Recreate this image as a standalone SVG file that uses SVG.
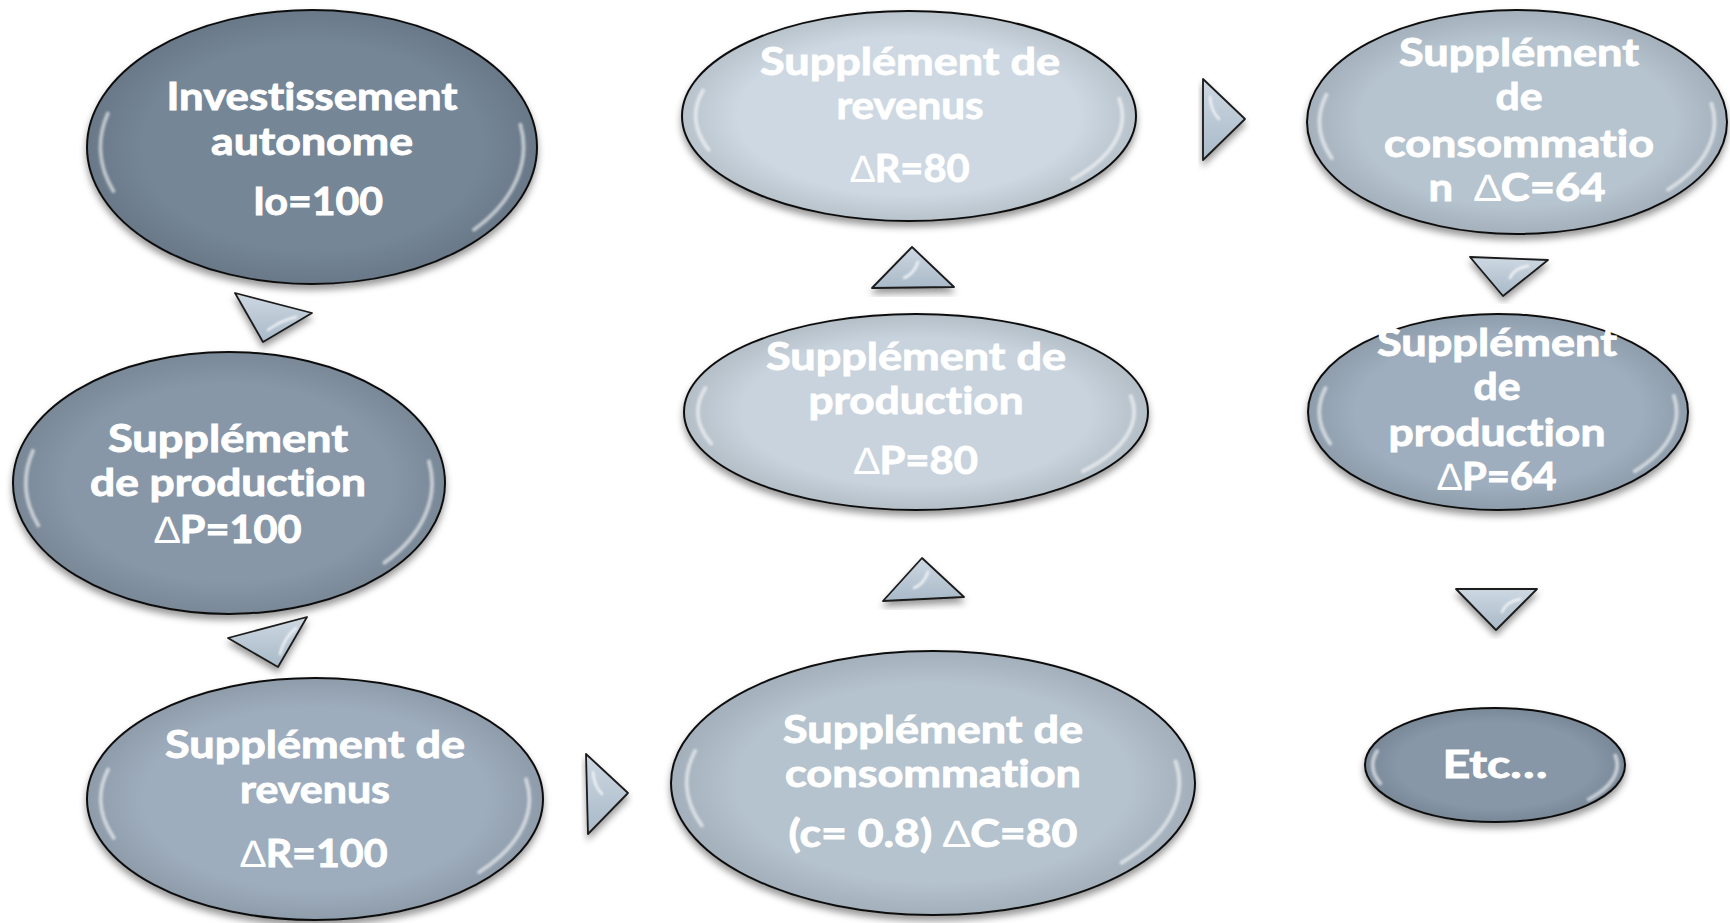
<svg xmlns="http://www.w3.org/2000/svg" width="1730" height="923" viewBox="0 0 1730 923">
<defs>
<filter id="sh" x="-10%" y="-10%" width="120%" height="130%">
<feDropShadow dx="0" dy="5" stdDeviation="3.5" flood-color="#000" flood-opacity="0.4"/>
</filter>
<filter id="soft" x="-20%" y="-20%" width="140%" height="140%">
<feGaussianBlur stdDeviation="0.9"/>
</filter>
<radialGradient id="edge" cx="50%" cy="50%" r="50%">
<stop offset="0.75" stop-color="#000" stop-opacity="0"/>
<stop offset="1" stop-color="#000" stop-opacity="0.1"/>
</radialGradient>
<linearGradient id="tri" x1="0" y1="0" x2="0" y2="1">
<stop offset="0" stop-color="#cdd8e2"/>
<stop offset="1" stop-color="#a9b9c8"/>
</linearGradient>
<style>
.node .e{stroke:#111;stroke-width:2;filter:url(#sh)}
.node .o{fill:url(#edge);stroke:none}
.hl{fill:none;stroke:#fff;stroke-opacity:0.55;stroke-width:4;stroke-linecap:round;filter:url(#soft)}
.lbl{font-family:"Lato","Liberation Sans",sans-serif;font-weight:700;font-size:38px;fill:#fff;stroke:#fff;stroke-width:0.9;text-anchor:middle;font-variant-ligatures:none}
.d{font-family:"Liberation Sans","DejaVu Sans",sans-serif;font-weight:400;stroke-width:0}
.t{fill:url(#tri);stroke:#1a1a1a;stroke-width:1.8;stroke-linejoin:round;filter:url(#sh)}
.th{fill:none;stroke:#fff;stroke-opacity:0.75;stroke-width:2.5;stroke-linecap:round;filter:url(#soft)}
</style>
</defs>
<rect width="1730" height="923" fill="#fff"/>

<g id="connectors">
<polygon class="t" points="235,293 312,313 263,342"/>
<path class="th" d="M268,330 Q282,320 296,317"/>
<polygon class="t" points="228,638 307,617 278,667"/>
<path class="th" d="M280,654 Q284,638 296,628"/>
<polygon class="t" points="586,754 628,793 588,834"/>
<path class="th" d="M593,772 Q594,786 602,794"/>
<polygon class="t" points="883,601 964,597 922,558"/>
<path class="th" d="M914,588 Q924,584 928,572"/>
<polygon class="t" points="872,288 954,287 912,247"/>
<path class="th" d="M904,278 Q914,274 918,262"/>
<polygon class="t" points="1203,79 1245,119 1203,160"/>
<path class="th" d="M1210,97 Q1211,111 1219,119"/>
<polygon class="t" points="1470,257 1548,260 1503,296"/>
<path class="th" d="M1510,278 Q1514,268 1528,266"/>
<polygon class="t" points="1456,589 1537,589 1496,630"/>
<path class="th" d="M1502,612 Q1506,602 1520,599"/>
</g>

<g id="n1" class="node">
<ellipse class="e" cx="312" cy="147" rx="225" ry="137" fill="#748697"/>
<ellipse class="o" cx="312" cy="147" rx="225" ry="137"/>
<path class="hl" d="M107.7,113.7 A211.5,128.8 0 0 0 113.3,191 M520.4,124.7 A211.5,128.8 0 0 1 474,229.7"/>
<text class="lbl" x="312" y="110" textLength="291" lengthAdjust="spacingAndGlyphs">Investissement</text>
<text class="lbl" x="312" y="155" textLength="202" lengthAdjust="spacingAndGlyphs">autonome</text>
<text class="lbl" x="318" y="215" textLength="130" lengthAdjust="spacingAndGlyphs">Io=100</text>
</g>

<g id="n2" class="node">
<ellipse class="e" cx="229" cy="483" rx="216" ry="131" fill="#8797a8"/>
<ellipse class="o" cx="229" cy="483" rx="216" ry="131"/>
<path class="hl" d="M32.9,450.9 A203,124.1 0 0 0 38.3,525.4 M429,461.5 A203,124.1 0 0 1 384.5,562.7"/>
<text class="lbl" x="228" y="452" textLength="240" lengthAdjust="spacingAndGlyphs">Supplément</text>
<text class="lbl" x="228" y="496" textLength="276" lengthAdjust="spacingAndGlyphs">de production</text>
<text class="lbl" x="228" y="543" textLength="147" lengthAdjust="spacingAndGlyphs"><tspan class="d">∆</tspan>P=100</text>
</g>

<g id="n3" class="node">
<ellipse class="e" cx="315" cy="799" rx="228" ry="121" fill="#9eadbd"/>
<ellipse class="o" cx="315" cy="799" rx="228" ry="121"/>
<path class="hl" d="M108,769.6 A214.3,113.7 0 0 0 113.7,837.8 M526.1,779.3 A214.3,113.7 0 0 1 479.2,872.1"/>
<text class="lbl" x="315" y="758" textLength="300" lengthAdjust="spacingAndGlyphs">Supplément de</text>
<text class="lbl" x="315" y="803" textLength="150" lengthAdjust="spacingAndGlyphs">revenus</text>
<text class="lbl" x="314" y="867" textLength="147" lengthAdjust="spacingAndGlyphs"><tspan class="d">∆</tspan>R=100</text>
</g>

<g id="n4" class="node">
<ellipse class="e" cx="933" cy="783" rx="262" ry="132" fill="#b5c3cf"/>
<ellipse class="o" cx="933" cy="783" rx="262" ry="132"/>
<path class="hl" d="M695.1,750.9 A246.3,124.1 0 0 0 701.7,825.4 M1175.6,761.5 A246.3,124.1 0 0 1 1121.6,862.7"/>
<text class="lbl" x="933" y="743" textLength="300" lengthAdjust="spacingAndGlyphs">Supplément de</text>
<text class="lbl" x="933" y="787" textLength="296" lengthAdjust="spacingAndGlyphs">consommation</text>
<text class="lbl" x="933" y="847" textLength="289" lengthAdjust="spacingAndGlyphs">(c= 0.8) <tspan class="d">∆</tspan>C=80</text>
</g>

<g id="n5" class="node">
<ellipse class="e" cx="916" cy="412" rx="232" ry="98" fill="#c8d3dd"/>
<ellipse class="o" cx="916" cy="412" rx="232" ry="98"/>
<path class="hl" d="M705.3,388.2 A218.1,92.1 0 0 0 711.1,443.5 M1130.8,396 A218.1,92.1 0 0 1 1083,471.2"/>
<text class="lbl" x="916" y="370" textLength="300" lengthAdjust="spacingAndGlyphs">Supplément de</text>
<text class="lbl" x="916" y="414" textLength="215" lengthAdjust="spacingAndGlyphs">production</text>
<text class="lbl" x="916" y="474" textLength="124" lengthAdjust="spacingAndGlyphs"><tspan class="d">∆</tspan>P=80</text>
</g>

<g id="n6" class="node">
<ellipse class="e" cx="909" cy="116" rx="227" ry="105" fill="#cdd8e2"/>
<ellipse class="o" cx="909" cy="116" rx="227" ry="105"/>
<path class="hl" d="M702.9,90.5 A213.4,98.7 0 0 0 708.6,149.7 M1119.2,98.9 A213.4,98.7 0 0 1 1072.4,179.4"/>
<text class="lbl" x="910" y="75" textLength="300" lengthAdjust="spacingAndGlyphs">Supplément de</text>
<text class="lbl" x="910" y="119" textLength="147" lengthAdjust="spacingAndGlyphs">revenus</text>
<text class="lbl" x="910" y="182" textLength="119" lengthAdjust="spacingAndGlyphs"><tspan class="d">∆</tspan>R=80</text>
</g>

<g id="n7" class="node">
<ellipse class="e" cx="1517" cy="122" rx="210" ry="112" fill="#b6c4d0"/>
<ellipse class="o" cx="1517" cy="122" rx="210" ry="112"/>
<path class="hl" d="M1326.3,94.8 A197.4,105.3 0 0 0 1331.6,158 M1711.5,103.7 A197.4,105.3 0 0 1 1668.2,189.6"/>
<text class="lbl" x="1519" y="66" textLength="240" lengthAdjust="spacingAndGlyphs">Supplément</text>
<text class="lbl" x="1519" y="110" textLength="47" lengthAdjust="spacingAndGlyphs">de</text>
<text class="lbl" x="1519" y="157" textLength="270" lengthAdjust="spacingAndGlyphs">consommatio</text>
<text class="lbl" x="1517" y="201" textLength="177" lengthAdjust="spacingAndGlyphs" style="white-space:pre">n  <tspan class="d">∆</tspan>C=64</text>
</g>

<g id="n8" class="node">
<ellipse class="e" cx="1498" cy="412" rx="190" ry="98" fill="#9eaebe"/>
<ellipse class="o" cx="1498" cy="412" rx="190" ry="98"/>
<path class="hl" d="M1325.5,388.2 A178.6,92.1 0 0 0 1330.2,443.5 M1673.9,396 A178.6,92.1 0 0 1 1634.8,471.2"/>
<text class="lbl" x="1497" y="356" textLength="240" lengthAdjust="spacingAndGlyphs">Supplément</text>
<text class="lbl" x="1497" y="400" textLength="47" lengthAdjust="spacingAndGlyphs">de</text>
<text class="lbl" x="1497" y="446" textLength="217" lengthAdjust="spacingAndGlyphs">production</text>
<text class="lbl" x="1497" y="490" textLength="119" lengthAdjust="spacingAndGlyphs"><tspan class="d">∆</tspan>P=64</text>
</g>

<g id="n9" class="node">
<ellipse class="e" cx="1495" cy="765" rx="130" ry="57" fill="#8797a8"/>
<ellipse class="o" cx="1495" cy="765" rx="130" ry="57"/>
<path class="hl" d="M1377,751.1 A122.2,53.6 0 0 0 1380.2,783.3 M1615.4,755.7 A122.2,53.6 0 0 1 1588.6,799.4"/>
<text class="lbl" x="1495" y="778" textLength="105" lengthAdjust="spacingAndGlyphs">Etc…</text>
</g>
</svg>
